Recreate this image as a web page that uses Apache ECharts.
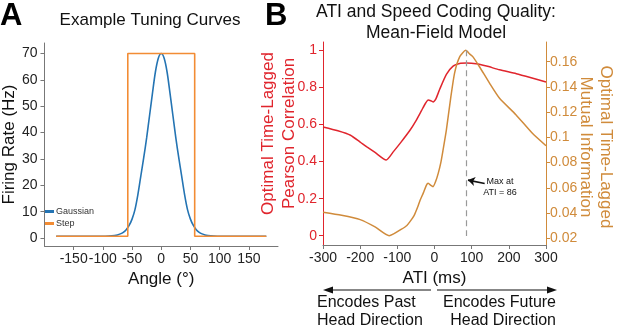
<!DOCTYPE html>
<html>
<head>
<meta charset="utf-8">
<script src="https://cdn.jsdelivr.net/npm/echarts@6/dist/echarts.min.js"></script>
<style>
  html, body { margin: 0; padding: 0; background: #fff; }
  #chart { width: 617px; height: 327px; }
</style>
</head>
<body>
<div id="chart"></div>
<script>
// panel A: tuning curves
var gaussAngle = [-180, -100, -90, -80, -75, -70, -65, -60, -55, -50, -45, -40, -35, -30, -25, -20, -15, -10, -5,
                  0, 5, 10, 15, 20, 25, 30, 35, 40, 45, 50, 55, 60, 65, 70, 75, 80, 90, 100, 180];
var gaussRate = [0.7, 0.7, 0.8, 1.0, 1.2, 1.6, 2.2, 3.2, 4.8, 7.2, 10.8, 16.5, 23.5, 30.5, 38, 46.5, 55, 63, 68.2,
                 70, 68.2, 63, 55, 46.5, 38, 30.5, 23.5, 16.5, 10.8, 7.2, 4.8, 3.2, 2.2, 1.6, 1.2, 1.0, 0.8, 0.7, 0.7];
var stepAngle = [-180, -57.3, -57.3, 57.3, 57.3, 180];
var stepRate = [0.7, 0.7, 70, 70, 0.7, 0.7];
var angleTicks = [-150, -100, -50, 0, 50, 100, 150];
var rateTicks = [0, 10, 20, 30, 40, 50, 60, 70];

// panel B: ATI coding quality
var atiCorr = [-300, -260, -226, -200, -182, -160, -130, -110, -90, -66, -50, -35, -25, -17, -10, -4, 3, 14, 32, 50,
               70, 86, 112, 140, 175, 220, 260, 300];
var corrValues = [0.587, 0.566, 0.542, 0.505, 0.479, 0.449, 0.408, 0.455, 0.505, 0.569, 0.62, 0.675, 0.712, 0.732,
                  0.728, 0.722, 0.735, 0.79, 0.87, 0.915, 0.93, 0.932, 0.928, 0.915, 0.895, 0.874, 0.852, 0.829];
var atiMI = [-300, -250, -200, -160, -122, -110, -90, -75, -66, -55, -45, -39, -30, -22, -17, -10, -4, 3, 10, 17,
             23, 32, 43, 54, 68, 84, 95, 103, 121, 148, 175, 219, 264, 300];
var miValues = [0.0406, 0.0382, 0.0348, 0.029, 0.022, 0.0235, 0.027, 0.030, 0.0332, 0.038, 0.045, 0.050, 0.056,
                0.062, 0.0636, 0.062, 0.0609, 0.065, 0.0715, 0.080, 0.090, 0.106, 0.13, 0.151, 0.164, 0.169, 0.166,
                0.164, 0.156, 0.143, 0.131, 0.118, 0.103, 0.0934];
var atiTicks = [-300, -200, -100, 0, 100, 200, 300];
var corrTicks = [0, 0.2, 0.4, 0.6, 0.8, 1];
var miTicks = [0.02, 0.04, 0.06, 0.08, 0.1, 0.12, 0.14, 0.16];
var maxATI = 86;

var FONT = 'Liberation Sans, Arial, sans-serif';
var RED = '#e0252d';
var ORANGE = '#d08b3b';
var AXIS = '#777';

function zip(xs, ys) {
  return xs.map(function (x, i) { return [x, ys[i]]; });
}

function txt(x, y, text, size, color, align, rot) {
  return {
    type: 'text', x: x, y: y, rotation: rot || 0,
    style: {
      text: text, fontSize: size, fontFamily: FONT, fill: color || '#111',
      align: align || 'center', verticalAlign: 'middle'
    }
  };
}

var myChart = echarts.init(document.getElementById('chart'), null, { renderer: 'canvas' });

myChart.setOption({
  animation: false,
  textStyle: { fontFamily: FONT },
  grid: [
    { left: 43, right: 339, top: 43, bottom: 81 },
    { left: 323, right: 71, top: 42, bottom: 82 }
  ],
  legend: {
    data: ['Gaussian', 'Step'],
    orient: 'vertical',
    left: 45, top: 207,
    padding: 0,
    itemWidth: 9, itemHeight: 3, itemGap: 3,
    icon: 'rect',
    textStyle: { fontSize: 9, color: '#333', padding: [0, 0, 0, -3] }
  },
  xAxis: [
    {
      gridIndex: 0, type: 'value', min: -200, max: 200,
      axisLine: { onZero: false, lineStyle: { color: AXIS } },
      axisTick: { customValues: angleTicks, length: 4, lineStyle: { color: AXIS } },
      axisLabel: { customValues: angleTicks, fontSize: 14, color: '#222', margin: 6 },
      splitLine: { show: false },
      name: 'Angle (°)', nameLocation: 'middle', nameGap: 22,
      nameTextStyle: { fontSize: 17, color: '#111' }
    },
    {
      gridIndex: 1, type: 'value', min: -300, max: 300, interval: 100,
      axisLine: { onZero: false, lineStyle: { color: AXIS } },
      axisTick: { customValues: atiTicks, length: 4, lineStyle: { color: AXIS } },
      axisLabel: { customValues: atiTicks, fontSize: 14, color: '#222', margin: 6 },
      splitLine: { show: false },
      name: 'ATI (ms)', nameLocation: 'middle', nameGap: 22,
      nameTextStyle: { fontSize: 17, color: '#111' }
    }
  ],
  yAxis: [
    {
      gridIndex: 0, type: 'value', min: -3, max: 74,
      axisLine: { show: true, onZero: false, lineStyle: { color: AXIS } },
      axisTick: { show: true, customValues: rateTicks, length: 4, lineStyle: { color: AXIS } },
      axisLabel: { customValues: rateTicks, fontSize: 14, color: '#222', margin: 7 },
      splitLine: { show: false },
      name: 'Firing Rate (Hz)', nameLocation: 'middle', nameGap: 25,
      nameTextStyle: { fontSize: 17, color: '#111' }
    },
    {
      gridIndex: 1, type: 'value', position: 'left', min: -0.05, max: 1.045,
      axisLine: { show: true, onZero: false, lineStyle: { color: RED } },
      axisTick: { show: true, customValues: corrTicks, length: 4, lineStyle: { color: RED } },
      axisLabel: { customValues: corrTicks, fontSize: 14, color: RED, margin: 6 },
      splitLine: { show: false }
    },
    {
      gridIndex: 1, type: 'value', position: 'right', min: 0.0147, max: 0.1756,
      axisLine: { show: true, onZero: false, lineStyle: { color: ORANGE } },
      axisTick: { show: true, customValues: miTicks, length: 4, lineStyle: { color: ORANGE } },
      axisLabel: { customValues: miTicks, fontSize: 14, color: ORANGE, margin: 4 },
      splitLine: { show: false }
    }
  ],
  series: [
    {
      name: 'Gaussian', type: 'line', xAxisIndex: 0, yAxisIndex: 0,
      data: zip(gaussAngle, gaussRate), smooth: 0.3, showSymbol: false,
      lineStyle: { color: '#2474b3', width: 1.6 }, itemStyle: { color: '#2474b3' }
    },
    {
      name: 'Step', type: 'line', xAxisIndex: 0, yAxisIndex: 0,
      data: zip(stepAngle, stepRate), showSymbol: false,
      lineStyle: { color: '#f28c34', width: 1.6 }, itemStyle: { color: '#f28c34' }
    },
    {
      name: 'Pearson', type: 'line', xAxisIndex: 1, yAxisIndex: 1,
      data: zip(atiCorr, corrValues), smooth: 0.2, showSymbol: false,
      lineStyle: { color: RED, width: 1.5 },
      markLine: {
        silent: true, symbol: ['none', 'arrow'], symbolSize: 7,
        label: { show: false },
        lineStyle: { color: '#111', width: 1.6, type: 'solid' },
        data: [[{ coord: [135, 0.282] }, { coord: [90, 0.30] }]]
      }
    },
    {
      name: 'MI', type: 'line', xAxisIndex: 1, yAxisIndex: 2,
      data: zip(atiMI, miValues), smooth: 0.2, showSymbol: false,
      lineStyle: { color: ORANGE, width: 1.5 },
      markLine: {
        silent: true, symbol: 'none',
        label: { show: false },
        lineStyle: { color: '#999', width: 1.2, type: [6, 4] },
        data: [[{ coord: [maxATI, 0.169] }, { coord: [maxATI, 0.0218] }]]
      }
    }
  ],
  graphic: [
    { type: 'text', x: 0, y: 16, style: { text: 'A', font: 'bold 31px ' + FONT, fill: '#000', verticalAlign: 'middle' } },
    { type: 'text', x: 265, y: 16, style: { text: 'B', font: 'bold 31px ' + FONT, fill: '#000', verticalAlign: 'middle' } },
    txt(150, 20, 'Example Tuning Curves', 17),
    txt(436, 12, 'ATI and Speed Coding Quality:', 17.5),
    txt(436, 33, 'Mean-Field Model', 17.5),
    txt(268.5, 133.5, 'Optimal Time-Lagged', 17, RED, 'center', Math.PI / 2),
    txt(289, 133.5, 'Pearson Correlation', 17, RED, 'center', Math.PI / 2),
    txt(606, 147, 'Optimal Time-Lagged', 17, ORANGE, 'center', -Math.PI / 2),
    txt(586, 147, 'Mutual Information', 17, ORANGE, 'center', -Math.PI / 2),
    {
      type: 'text', x: 500, y: 187,
      style: { text: 'Max at\nATI = ' + maxATI, fontSize: 9, fontFamily: FONT, fill: '#111',
               align: 'center', verticalAlign: 'middle', lineHeight: 11.5 }
    },
    // direction arrows under the ATI axis
    { type: 'line', shape: { x1: 431, y1: 290, x2: 330, y2: 290 }, style: { stroke: '#111', lineWidth: 1.2 } },
    { type: 'polygon', shape: { points: [[323, 290], [333, 286.5], [333, 293.5]] }, style: { fill: '#111' } },
    { type: 'line', shape: { x1: 437, y1: 290, x2: 549, y2: 290 }, style: { stroke: '#111', lineWidth: 1.2 } },
    { type: 'polygon', shape: { points: [[557, 290], [547, 286.5], [547, 293.5]] }, style: { fill: '#111' } },
    txt(317, 303, 'Encodes Past', 16, '#111', 'left'),
    txt(317, 321, 'Head Direction', 16, '#111', 'left'),
    txt(556, 303, 'Encodes Future', 16, '#111', 'right'),
    txt(556, 321, 'Head Direction', 16, '#111', 'right')
  ]
});
</script>
</body>
</html>
